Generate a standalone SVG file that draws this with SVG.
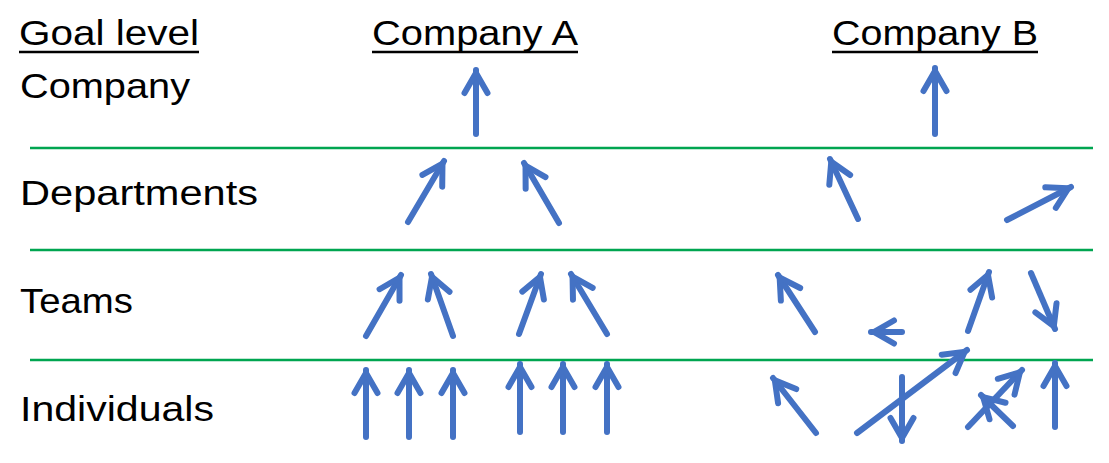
<svg xmlns="http://www.w3.org/2000/svg" width="1109" height="463" viewBox="0 0 1109 463">
<style>
.t{font-family:"Liberation Sans",Arial,sans-serif;font-size:35px;fill:#000}
.ul{stroke:#000;stroke-width:2.5}
.sep{stroke:#00A550;stroke-width:2.5}
.a{stroke:#4472C4;stroke-width:6;stroke-linecap:round;fill:none;marker-end:url(#ah)}
</style>
<defs>
<marker id="ah" markerUnits="userSpaceOnUse" viewBox="-30 -16 34 32" refX="0" refY="0" markerWidth="34" markerHeight="32" orient="auto" overflow="visible">
<path d="M-23,-11.5 L-3,0 L-23,11.5" fill="none" stroke="#4472C4" stroke-width="6" stroke-linecap="round" stroke-linejoin="miter"/>
</marker>
</defs>
<rect width="1109" height="463" fill="#fff"/>
<g id="labels">
<text class="t" x="19" y="45" textLength="180" lengthAdjust="spacingAndGlyphs">Goal level</text>
<line class="ul" x1="19" y1="52" x2="199" y2="52"/>
<text class="t" x="372" y="45" textLength="206" lengthAdjust="spacingAndGlyphs">Company A</text>
<line class="ul" x1="372" y1="52" x2="578" y2="52"/>
<text class="t" x="832" y="45" textLength="206" lengthAdjust="spacingAndGlyphs">Company B</text>
<line class="ul" x1="832" y1="52" x2="1038" y2="52"/>
<text class="t" x="20" y="98" textLength="170" lengthAdjust="spacingAndGlyphs">Company</text>
<text class="t" x="20" y="205" textLength="238" lengthAdjust="spacingAndGlyphs">Departments</text>
<text class="t" x="20" y="313" textLength="113" lengthAdjust="spacingAndGlyphs">Teams</text>
<text class="t" x="20" y="421" textLength="194" lengthAdjust="spacingAndGlyphs">Individuals</text>
</g>
<g id="separators">
<line class="sep" x1="30" y1="148" x2="1093" y2="148"/>
<line class="sep" x1="30" y1="250" x2="1093" y2="250"/>
<line class="sep" x1="30" y1="360" x2="1093" y2="360"/>
</g>
<g id="connectors">
<g id="companyA">
<line class="a" x1="476" y1="134" x2="476" y2="70"/>
<line class="a" x1="408" y1="222" x2="444" y2="161"/>
<line class="a" x1="559" y1="223" x2="524" y2="163"/>
<line class="a" x1="366" y1="336" x2="401" y2="275"/>
<line class="a" x1="453" y1="336" x2="431" y2="274"/>
<line class="a" x1="519" y1="334" x2="541" y2="274"/>
<line class="a" x1="607" y1="334" x2="571" y2="274"/>
<line class="a" x1="366" y1="437" x2="366" y2="370"/>
<line class="a" x1="409" y1="437" x2="409" y2="370"/>
<line class="a" x1="453" y1="437" x2="453" y2="370"/>
<line class="a" x1="520" y1="432" x2="520" y2="364"/>
<line class="a" x1="563" y1="432" x2="563" y2="364"/>
<line class="a" x1="607" y1="432" x2="607" y2="364"/>
</g>
<g id="companyB">
<line class="a" x1="935" y1="134" x2="935" y2="68"/>
<line class="a" x1="858" y1="219" x2="830" y2="159"/>
<line class="a" x1="1007" y1="220" x2="1071" y2="187"/>
<line class="a" x1="815" y1="332" x2="778" y2="275"/>
<line class="a" x1="902" y1="332" x2="871" y2="332"/>
<line class="a" x1="968" y1="331" x2="989" y2="272"/>
<line class="a" x1="1031" y1="273" x2="1055" y2="329"/>
<line class="a" x1="816" y1="433" x2="773" y2="378"/>
<line class="a" x1="857" y1="433" x2="967" y2="350"/>
<line class="a" x1="902" y1="377" x2="902" y2="441"/>
<line class="a" x1="968" y1="427" x2="1022" y2="370"/>
<line class="a" x1="1013" y1="426" x2="981" y2="395"/>
<line class="a" x1="1055" y1="427" x2="1055" y2="363"/>
</g>
</g>
</svg>
